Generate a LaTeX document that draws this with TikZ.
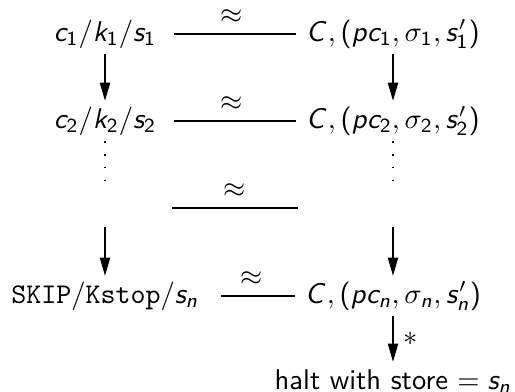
\documentclass[tikz,border=0pt]{standalone}
\usetikzlibrary{arrows.meta}
% sans letters and digits in math, Greek stays from cmmi
\DeclareSymbolFont{sfletters}{OT1}{cmss}{m}{it}
\SetSymbolFont{operators}{normal}{OT1}{cmss}{m}{n}
\newcount\ltrcnt
\ltrcnt=65
\loop
  \mathcode\ltrcnt=\numexpr"7000+\symsfletters*"100+\ltrcnt\relax
  \advance\ltrcnt by 1
\ifnum\ltrcnt<91 \repeat
\ltrcnt=97
\loop
  \mathcode\ltrcnt=\numexpr"7000+\symsfletters*"100+\ltrcnt\relax
  \advance\ltrcnt by 1
\ifnum\ltrcnt<123 \repeat

\begin{document}
\begin{tikzpicture}[
    x=0.35pt, y=-0.35pt,
    state/.style={font=\sffamily, text height=7pt, text depth=2pt, inner sep=2.4pt},
    sim/.style={line width=0.4pt, shorten <=3.5pt, shorten >=1pt},
    simlabel/.style={above=2.83pt, inner sep=0.5pt},
    arrow/.style={-{Triangle[length=6.3pt,width=3.6pt]}, line width=0.4pt},
    dots/.style={loosely dotted, line width=0.5pt}
]
\useasboundingbox (0,0) rectangle (515,392);

\node[state] (c1) at (105,34) {$c_1/k_1/s_1$};
\node[state] (r1) at (393,34) {$C,(pc_1,\sigma_1,s_1')$};
\node[state] (c2) at (105,121) {$c_2/k_2/s_2$};
\node[state] (r2) at (393,121) {$C,(pc_2,\sigma_2,s_2')$};
\node[state] (cn) at (105,296) {$\texttt{SKIP}/\texttt{Kstop}/s_n$};
\node[state] (rn) at (393,296) {$C,(pc_n,\sigma_n,s_n')$};
\node[state] (halt) at (393,382) {halt with store $= s_n$};

\coordinate (dl) at (105,182);
\coordinate (dr) at (393,182);
\coordinate (al) at (105,227);
\coordinate (ar) at (393,227);
\coordinate (gl) at (172,208);
\coordinate (gr) at (298,208);

\draw[sim] (c1) -- node[simlabel] {$\approx$} (r1);
\draw[sim] (c2) -- node[simlabel] {$\approx$} (r2);
\draw[line width=0.4pt] (gl) -- node[simlabel] {$\approx$} (gr);
\draw[sim, shorten <=5.3pt] (cn) -- node[simlabel] {$\approx$} (rn);

\draw[arrow] (c1) -- (c2);
\draw[arrow] (r1) -- (r2);
\draw[dots] (c2) -- (dl);
\draw[dots] (r2) -- (dr);
\draw[arrow] (al) -- (cn);
\draw[arrow] (ar) -- (rn);
\draw[arrow] (rn) -- node[right] {$*$} (halt);
\end{tikzpicture}
\end{document}
